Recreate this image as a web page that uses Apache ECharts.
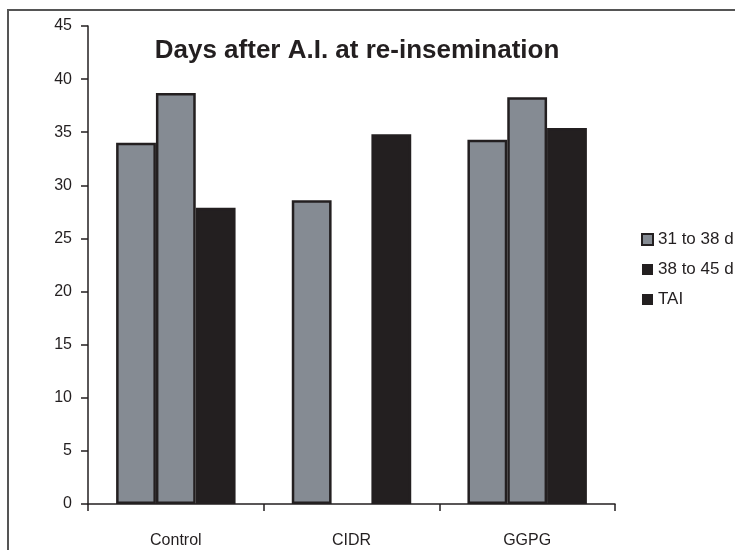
<!DOCTYPE html>
<html>
<head>
<meta charset="utf-8">
<script src="https://cdn.jsdelivr.net/npm/echarts@6/dist/echarts.min.js"></script>
<style>html,body{margin:0;padding:0;background:#fff}#c{width:735px;height:550px}</style>
</head>
<body>
<div id="c"></div>
<script>
var categories = ['Control', 'CIDR', 'GGPG'];
var seriesNames = ['31 to 38 d', '38 to 45 d', 'TAI'];
var s1 = [34.0, 28.6, 34.3];
var s2 = [38.7, null, 38.3];
var s3 = [27.9, 34.8, 35.4];
var yTicks = [0, 5, 10, 15, 20, 25, 30, 35, 40, 45];

var GRAY = '#858b93', BLACK = '#231f20';
var FONT = 'Liberation Sans, Arial, sans-serif';
var chart = echarts.init(document.getElementById('c'));
function bar(name, data, color) {
  return {
    name: name, type: 'bar', data: data, barGap: '0%', barCategoryGap: '32%',
    itemStyle: { color: color, borderColor: BLACK, borderWidth: 2.5 }
  };
}
chart.setOption({
  animation: false,
  backgroundColor: '#fff',
  title: {
    text: 'Days after A.I. at re-insemination',
    left: 352, top: 33, textAlign: 'center',
    textStyle: { fontFamily: FONT, fontSize: 26, fontWeight: 'bold', color: BLACK }
  },
  legend: {
    orient: 'vertical', left: 636, top: 226, itemGap: 13,
    itemWidth: 11, itemHeight: 11, icon: 'rect',
    textStyle: { fontFamily: FONT, fontSize: 17, color: BLACK },
    data: [
      { name: seriesNames[0], itemStyle: { color: GRAY, borderColor: BLACK, borderWidth: 2 } },
      { name: seriesNames[1], itemStyle: { color: BLACK, borderColor: BLACK, borderWidth: 0 } },
      { name: seriesNames[2], itemStyle: { color: BLACK, borderColor: BLACK, borderWidth: 0 } }
    ]
  },
  graphic: [{
    type: 'rect', shape: { x: 8, y: 10, width: 800, height: 700 },
    style: { fill: 'none', stroke: '#555', lineWidth: 2 }, silent: true
  }],
  grid: { left: 88, right: 120, top: 26, bottom: 46 },
  xAxis: {
    type: 'category', data: categories,
    axisLine: { lineStyle: { color: BLACK, width: 1.5 } },
    axisTick: { show: true, length: 7, lineStyle: { color: BLACK, width: 1.5 } },
    axisLabel: { margin: 29, fontFamily: FONT, fontSize: 16, color: BLACK }
  },
  yAxis: {
    type: 'value', min: yTicks[0], max: yTicks[yTicks.length - 1], interval: 5,
    splitLine: { show: false },
    axisLine: { show: true, lineStyle: { color: BLACK, width: 1.5 } },
    axisTick: { show: true, length: 7, lineStyle: { color: BLACK, width: 1.5 } },
    axisLabel: { margin: 16, fontFamily: FONT, fontSize: 16, color: BLACK }
  },
  series: [bar(seriesNames[0], s1, GRAY), bar(seriesNames[1], s2, GRAY), bar(seriesNames[2], s3, BLACK)]
});
</script>
</body>
</html>
